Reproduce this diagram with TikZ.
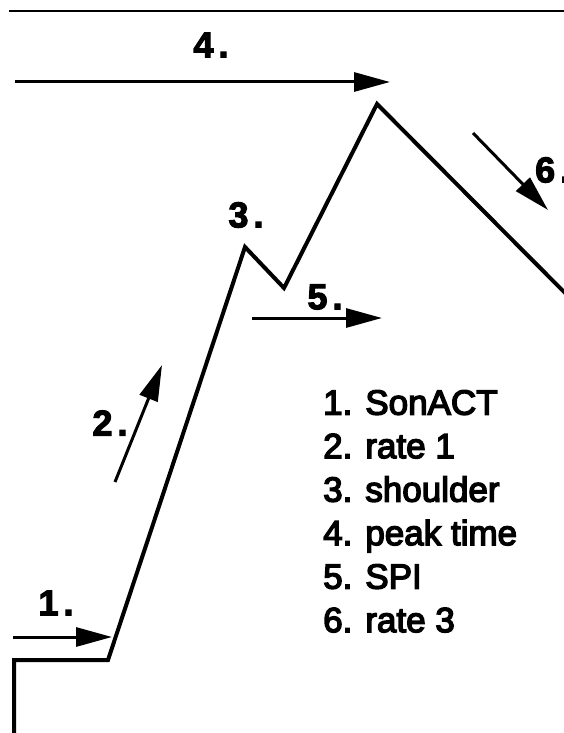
\documentclass[tikz,border=0pt]{standalone}
\usepackage{fontspec}
\setmainfont{Liberation Sans}
\font\listfnt="Liberation Sans:embolden=4" at 35pt
\font\tagfnt="Liberation Sans/B:embolden=3" at 36pt
\usetikzlibrary{arrows.meta,positioning}

\newcommand\tagnum[1]{#1\kern5pt.}
\newcommand\keyfont{\listfnt\baselineskip=43.5pt\relax}

\tikzset{
  curve/.style={line width=4pt, line join=miter},
  marker/.style={-{Triangle[length=36pt,width=19pt]}, line width=3pt},
  tag/.style={font=\tagfnt, inner sep=0pt},
  legend/.style={font=\keyfont, align=left, inner sep=0pt, anchor=north west}
}

\begin{document}
\begin{tikzpicture}[x=1pt,y=-1pt]
\useasboundingbox (0,0) rectangle (564,733);

% top rule
\coordinate (ruleL) at (9,11);
\coordinate (ruleR) at (564,11);
\draw[line width=2pt] (ruleL) -- (ruleR);

% response curve
\coordinate (base) at (14,736);
\coordinate (step) at (14,660);
\coordinate (onset) at (108,660);
\coordinate (shoulder) at (245,247);
\coordinate (dip) at (284,288);
\coordinate (peak) at (377,104);
\coordinate (tail) at (580,308);
\draw[curve] (base) -- (step) -- (onset) -- (shoulder) -- (dip) -- (peak) -- (tail);

% markers
\coordinate (a1s) at (13,637);
\coordinate (a1e) at (112,637);
\draw[marker] (a1s) -- (a1e);
\node[tag] (t1) at (56,603) {\tagnum{1}};

\coordinate (a2s) at (115,482);
\coordinate (a2e) at (162,365);
\draw[marker] (a2s) -- (a2e);
\node[tag] (t2) at (110,423) {\tagnum{2}};

\node[tag] (t3) at (246,215) {\tagnum{3}};

\coordinate (a4s) at (15,82);
\coordinate (a4e) at (390,82);
\draw[marker] (a4s) -- (a4e);
\node[tag] (t4) at (211,45) {\tagnum{4}};

\coordinate (a5s) at (252,318);
\coordinate (a5e) at (382,318);
\draw[marker] (a5s) -- (a5e);
\node[tag] (t5) at (325,297) {\tagnum{5}};

\coordinate (a6s) at (473,133);
\coordinate (a6e) at (548,210);
\draw[marker] (a6s) -- (a6e);
\node[tag, anchor=west] (t6) at (535,170) {\tagnum{6}};

% legend
\node[legend] (key) at (323,390) {1. SonACT\\2. rate 1\\3. shoulder\\4. peak time\\5. SPI\\6. rate 3};
\end{tikzpicture}
\end{document}
